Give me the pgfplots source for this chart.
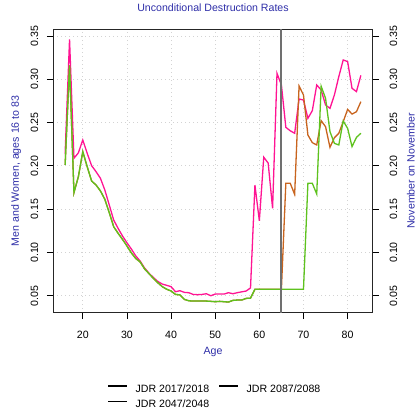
\documentclass[border=0pt]{standalone}
\usepackage{pgfplots}
\pgfplotsset{compat=1.18}
\usepackage{pgfplotstable}
\usepackage{fontspec}
\setmainfont{Liberation Sans}
\definecolor{cpink}{HTML}{FF1493}
\definecolor{cbrown}{HTML}{C8641E}
\definecolor{cgreen}{HTML}{5EC21E}
\definecolor{cblue}{HTML}{2E2EA8}
\definecolor{cgrid}{HTML}{D3D3D3}
\definecolor{cvline}{HTML}{707070}
\definecolor{clegA}{HTML}{606060}

\pgfplotstableread{
age p b g
16 0.2145 0.2010 0.2010
17 0.3460 0.3160 0.3160
18 0.2087 0.1690 0.1690
19 0.2150 0.1875 0.1875
20 0.2299 0.2164 0.2164
21 0.2145 0.1990 0.1990
22 0.2002 0.1825 0.1825
23 0.1933 0.1779 0.1779
24 0.1856 0.1710 0.1710
25 0.1720 0.1613 0.1613
26 0.1548 0.1459 0.1459
27 0.1374 0.1297 0.1297
28 0.1278 0.1221 0.1221
29 0.1190 0.1151 0.1151
30 0.1112 0.1075 0.1075
31 0.1040 0.0995 0.0995
32 0.0960 0.0930 0.0930
33 0.0900 0.0890 0.0890
34 0.0820 0.0810 0.0810
35 0.0760 0.0755 0.0755
36 0.0710 0.0700 0.0700
37 0.0665 0.0650 0.0650
38 0.0635 0.0605 0.0605
39 0.0620 0.0575 0.0575
40 0.0605 0.0555 0.0555
41 0.0546 0.0515 0.0515
42 0.0558 0.0510 0.0510
43 0.0539 0.0458 0.0458
44 0.0535 0.0442 0.0442
45 0.0515 0.0438 0.0438
46 0.0512 0.0438 0.0438
47 0.0515 0.0438 0.0438
48 0.0523 0.0438 0.0438
49 0.0500 0.0435 0.0435
50 0.0519 0.0431 0.0431
51 0.0519 0.0435 0.0435
52 0.0519 0.0431 0.0431
53 0.0535 0.0427 0.0427
54 0.0523 0.0446 0.0446
55 0.0535 0.0450 0.0450
56 0.0545 0.0450 0.0450
57 0.0554 0.0469 0.0469
58 0.0590 0.0472 0.0472
59 0.1778 0.0574 0.0574
60 0.1365 0.0574 0.0574
61 0.2100 0.0574 0.0574
62 0.2032 0.0574 0.0574
63 0.1509 0.0574 0.0574
64 0.3068 0.0574 0.0574
65 0.2934 0.0574 0.0574
66 0.2445 0.1798 0.0574
67 0.2405 0.1798 0.0574
68 0.2376 0.1670 0.0574
69 0.2772 0.2922 0.0574
70 0.2760 0.2818 0.0574
71 0.2549 0.2356 0.1798
72 0.2637 0.2268 0.1798
73 0.2934 0.2241 0.1675
74 0.2876 0.2522 0.2920
75 0.2703 0.2452 0.2780
76 0.2664 0.2214 0.2395
77 0.2818 0.2325 0.2260
78 0.3030 0.2376 0.2241
79 0.3223 0.2510 0.2518
80 0.3204 0.2652 0.2433
81 0.2895 0.2598 0.2222
82 0.2857 0.2625 0.2329
83 0.3045 0.2741 0.2376
}\data

\pgfplotsset{
  common/.style={
    at={(53.3bp,100.3bp)}, anchor=south west,
    scale only axis, width=319.4bp, height=283.4bp,
    xmin=13.32, xmax=85.68, ymin=0.0304, ymax=0.3577,
    tick align=outside, major tick length=6.5bp,
    every tick/.style={black, line width=0.8bp},
    ytick={0.05,0.10,0.15,0.20,0.25,0.30,0.35},
    yticklabels={0.05,0.10,0.15,0.20,0.25,0.30,0.35},
    yticklabel style={rotate=90, anchor=base, inner sep=0pt},
  }
}

\begin{document}
\fontsize{10.6bp}{12.7bp}\selectfont
\begin{tikzpicture}
\path[use as bounding box] (0,0) rectangle (417bp,413bp);
\begin{axis}[common,
  axis line style={black!85, line width=1.5bp},
  xtick={20,30,40,50,60,70,80},
  xticklabels={20,30,40,50,60,70,80},
  xtick pos=bottom, ytick pos=left,
  xticklabel style={anchor=base, inner sep=0pt},
  xticklabel shift=19.5bp,
  yticklabel shift=8.7bp,
  grid=major,
  major grid style={cgrid, line width=0.8bp, dash pattern=on 1bp off 3bp},
  title={Unconditional Destruction Rates},
  title style={at={(axis description cs:0.5,1.043)}, anchor=base, inner sep=0pt, text=cblue},
  xlabel={Age},
  xlabel style={at={(axis description cs:0.5,-0.1486)}, anchor=base, inner sep=0pt, text=cblue},
  ylabel={Men and Women, ages 16 to 83},
  ylabel style={at={(axis description cs:-0.108,0.5)}, anchor=base, inner sep=0pt, text=cblue},
]
\addplot[cpink, line width=1.3bp] table[x=age, y=p] {\data};
\addplot[cbrown, line width=1.3bp] table[x=age, y=b] {\data};
\addplot[cgreen, line width=1.3bp] table[x=age, y=g] {\data};
\addplot[cvline, line width=2bp] coordinates {(65,0.0304) (65,0.3577)};
\end{axis}
\begin{axis}[common,
  axis x line=none,
  axis y line*=right,
  axis line style={black!85, line width=1.5bp},
  ytick pos=right,
  yticklabel shift=17.9bp,
  ylabel={November on November},
  ylabel style={at={(axis description cs:1.131,0.5)}, anchor=base, inner sep=0pt, text=cblue},
  legend columns=2,
  legend cell align=left,
  legend style={at={(0.504,-0.253)}, anchor=north, draw=none, fill=none,
    inner sep=0pt, row sep=6.4bp, nodes={inner sep=0pt},
    /tikz/every odd column/.append style={column sep=9bp},
    /tikz/every even column/.append style={column sep=10bp}},
]
\addlegendimage{legend image code/.code={\fill[fill=clegA] (0bp,3.5bp) rectangle (18bp,4.2bp);}}
\addlegendentry{JDR 2017/2018}
\addlegendimage{legend image code/.code={\fill[fill=clegA] (0bp,3.5bp) rectangle (18bp,4.2bp);}}
\addlegendentry{JDR 2087/2088}
\addlegendimage{legend image code/.code={\fill[fill=black] (0bp,3.3bp) rectangle (18bp,4.2bp);}}
\addlegendentry{JDR 2047/2048}
\end{axis}
\end{tikzpicture}
\end{document}
